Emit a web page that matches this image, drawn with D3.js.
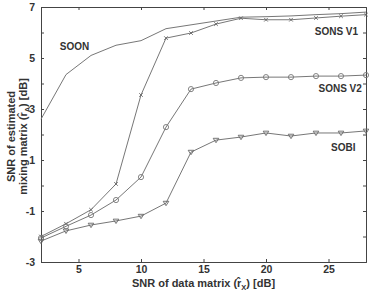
<!DOCTYPE html>
<html>
<head>
<meta charset="utf-8">
<script src="https://cdn.jsdelivr.net/npm/d3@7"></script>
<style>
  body { margin: 0; background: #fff; }
  text { font-family: "Liberation Sans", Arial, sans-serif; fill: #333; }
</style>
</head>
<body>
<div id="chart"></div>
<script>
// SNR of data matrix (x) vs SNR of estimated mixing matrix
const snrData = [2, 4, 6, 8, 10, 12, 14, 16, 18, 20, 22, 24, 26, 28];
const soon   = [2.6, 4.35, 5.1, 5.5, 5.68, 6.15, 6.3, 6.45, 6.6, 6.62, 6.65, 6.7, 6.74, 6.8];
const sonsV1 = [-2.0, -1.5, -0.95, 0.06, 3.55, 5.78, 5.98, 6.33, 6.56, 6.5, 6.5, 6.57, 6.64, 6.7];
const sonsV2 = [-2.06, -1.6, -1.16, -0.57, 0.33, 2.29, 3.78, 4.02, 4.22, 4.25, 4.25, 4.29, 4.29, 4.33];
const sobi   = [-2.18, -1.78, -1.55, -1.39, -1.2, -0.69, 1.31, 1.78, 1.9, 2.06, 1.94, 2.06, 2.06, 2.14];

const xTicks = [5, 10, 15, 20, 25];
const yTicks = [-3, -2, -1, 0, 1, 2, 3, 4, 5, 6, 7];
const yLabelled = [-3, -1, 1, 3, 5, 7];

const width = 369, height = 291;
const margin = { top: 7, right: 3, bottom: 29, left: 41 };
const innerW = width - margin.left - margin.right;
const innerH = height - margin.top - margin.bottom;

const svg = d3.select("#chart").append("svg")
    .attr("width", width)
    .attr("height", height);

const g = svg.append("g")
    .attr("transform", `translate(${margin.left},${margin.top})`);

const x = d3.scaleLinear().domain([2, 28]).range([0, innerW]);
const y = d3.scaleLinear().domain([-3, 7]).range([innerH, 0]);

const tickLen = 3;
const yFmt = d => yLabelled.includes(d) ? d : "";

// axes with inward ticks, box on all sides
const xAxis = g.append("g").attr("transform", `translate(0,${innerH})`)
    .call(d3.axisBottom(x).tickValues(xTicks).tickSize(-tickLen).tickPadding(4));
const xTop = g.append("g")
    .call(d3.axisTop(x).tickValues(xTicks).tickSize(-tickLen).tickFormat(""));
const yAxis = g.append("g")
    .call(d3.axisLeft(y).tickValues(yTicks).tickSize(-tickLen).tickPadding(6).tickFormat(yFmt));
const yRight = g.append("g").attr("transform", `translate(${innerW},0)`)
    .call(d3.axisRight(y).tickValues(yTicks).tickSize(-tickLen).tickFormat(""));

[xAxis, xTop, yAxis, yRight].forEach(a => {
    a.select(".domain").attr("stroke", "#444");
    a.selectAll(".tick line").attr("stroke", "#444");
    a.selectAll("text")
        .style("font-family", "'Liberation Sans', Arial, sans-serif")
        .style("font-size", "10.5px")
        .style("font-weight", "bold")
        .attr("fill", "#333");
});

const line = d3.line()
    .x((d, i) => x(snrData[i]))
    .y(d => y(d));

const series = [
    { name: "SOON", values: soon, marker: "none" },
    { name: "SONS V1", values: sonsV1, marker: "x" },
    { name: "SONS V2", values: sonsV2, marker: "circle" },
    { name: "SOBI", values: sobi, marker: "triangle" }
];

series.forEach(s => {
    g.append("path")
        .datum(s.values)
        .attr("fill", "none")
        .attr("stroke", "#777")
        .attr("stroke-width", 1)
        .attr("d", line);

    const pts = g.append("g").selectAll("g")
        .data(s.values)
        .join("g")
        .attr("transform", (d, i) => `translate(${x(snrData[i])},${y(d)})`);

    if (s.marker === "circle") {
        pts.append("circle").attr("r", 2.6)
            .attr("fill", "none").attr("stroke", "#777").attr("stroke-width", 0.9);
    } else if (s.marker === "x") {
        pts.append("path").attr("d", "M-1.8,-1.8L1.8,1.8M-1.8,1.8L1.8,-1.8")
            .attr("stroke", "#666").attr("stroke-width", 0.9);
    } else if (s.marker === "triangle") {
        pts.append("path").attr("d", "M-2.8,-1.8L2.8,-1.8L0,2.6Z")
            .attr("fill", "none").attr("stroke", "#666").attr("stroke-width", 0.9);
    }
});

// series labels
const labels = [
    { text: "SOON", x: 3.5, y: 5.45 },
    { text: "SONS V1", x: 23.9, y: 6.05 },
    { text: "SONS V2", x: 24.2, y: 3.8 },
    { text: "SOBI", x: 25.2, y: 1.5 }
];
g.selectAll(".series-label")
    .data(labels)
    .join("text")
    .attr("class", "series-label")
    .attr("x", d => x(d.x))
    .attr("y", d => y(d.y))
    .attr("dy", "0.35em")
    .style("font-size", "10px")
    .style("font-weight", "bold")
    .text(d => d.text);

// x axis label
const xl = svg.append("text")
    .attr("x", margin.left + innerW / 2)
    .attr("y", 287)
    .attr("text-anchor", "middle")
    .style("font-size", "11px")
    .style("font-weight", "bold");
xl.append("tspan").text("SNR of data matrix (r\u0302");
xl.append("tspan").attr("dy", 3).style("font-size", "7.5px").text("X");
xl.append("tspan").attr("dy", -3).text(") [dB]");

// y axis label (two lines)
const yl = svg.append("g")
    .attr("transform", `translate(0,${margin.top + innerH / 2 + 2}) rotate(-90)`);
yl.append("text")
    .attr("x", 0).attr("y", 15)
    .attr("text-anchor", "middle")
    .style("font-size", "11px")
    .style("font-weight", "bold")
    .text("SNR of estimated");
const yl2 = yl.append("text")
    .attr("x", 0).attr("y", 27)
    .attr("text-anchor", "middle")
    .style("font-size", "11px")
    .style("font-weight", "bold");
yl2.append("tspan").text("mixing matrix (r\u0302");
yl2.append("tspan").attr("dy", 3).style("font-size", "7.5px").text("A");
yl2.append("tspan").attr("dy", -3).text(") [dB]");
</script>
</body>
</html>
